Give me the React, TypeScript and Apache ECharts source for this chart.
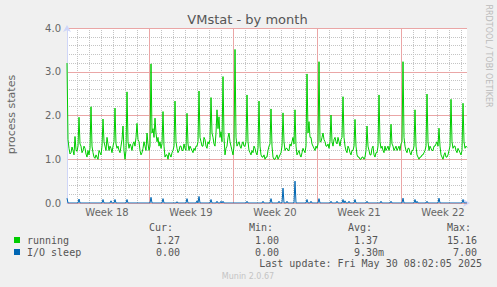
import React, { useEffect, useRef } from "react";
import * as echarts from "echarts";

// 2-hour samples starting Sun Apr 27 2025 04:00
const START_TIME = new Date(2025, 3, 27, 4, 0, 0).getTime();
const STEP_MS = 2 * 3600 * 1000;

const running = [
  3.2, 1.45, 1.25, 1.12, 1.15, 1.28, 1.2, 1.1, 1.52, 1.22, 1.18, 1.3,
  1.96, 1.35, 1.3, 1.15, 1.2, 1.3, 1.25, 1.12, 1.05, 1.2, 1.1, 1.25,
  2.2, 1.3, 1.15, 1.05, 1.02, 1.1, 1.05, 1.0, 1.2, 1.15, 1.1, 1.3,
  1.92, 1.4, 1.3, 1.2, 1.5, 1.35, 1.2, 1.3, 1.25, 1.15, 1.3, 1.4,
  2.17, 1.35, 1.25, 1.3, 1.2, 1.15, 1.3, 1.45, 1.76, 1.2, 1.0, 1.2,
  2.54, 1.4, 1.25, 1.35, 1.3, 1.2, 1.35, 1.4, 1.3, 1.5, 1.82, 1.45,
  1.4, 1.2, 1.1, 1.15, 1.25, 1.4, 1.3, 1.2, 1.6, 1.35, 1.2, 1.3,
  3.18, 1.6, 1.7, 1.5, 1.94, 1.6, 1.4, 1.5, 1.3, 1.4, 1.25, 1.35,
  2.09, 1.3, 1.05, 1.1, 1.1, 1.0, 1.15, 1.1, 1.05, 1.15, 1.2, 1.3,
  2.33, 1.4, 1.25, 1.15, 1.2, 1.3, 1.3, 1.2, 1.2, 1.35, 1.25, 1.2,
  2.05, 1.35, 1.2, 1.3, 1.25, 1.2, 1.15, 1.25, 1.2, 1.3, 1.3, 1.4,
  2.56, 1.5, 1.4, 1.3, 1.3, 1.5, 1.45, 1.3, 1.25, 1.4, 1.35, 1.45,
  2.41, 1.6, 1.5, 1.35, 1.3, 1.6, 2.13, 1.7, 1.97, 1.5, 1.63, 1.4,
  2.89, 1.5, 1.1, 1.25, 1.3, 1.5, 1.6, 1.4, 1.3, 1.2, 1.1, 1.3,
  3.51, 1.5, 1.3, 1.35, 1.4, 1.3, 1.25, 1.35, 1.4, 1.3, 1.3, 1.4,
  2.47, 1.4, 1.2, 1.15, 1.1, 1.2, 1.15, 1.3, 1.25, 1.15, 1.1, 1.25,
  2.33, 1.3, 1.1, 1.05, 1.05, 1.1, 1.0, 1.05, 1.05, 1.2, 1.3, 1.35,
  2.15, 1.3, 1.05, 1.0, 1.0, 1.05, 1.1, 1.0, 1.05, 1.1, 1.15, 1.3,
  2.06, 1.4, 1.2, 1.25, 1.25, 1.2, 1.2, 1.35, 1.3, 1.4, 1.5, 1.35,
  2.13, 1.3, 1.1, 1.15, 1.2, 1.1, 1.05, 1.15, 1.25, 1.2, 1.15, 1.3,
  2.95, 1.6, 1.86, 1.5, 1.5, 1.35, 1.3, 1.25, 1.2, 1.3, 1.25, 1.35,
  3.23, 1.4, 1.4, 1.5, 1.6, 1.45, 1.4, 1.3, 1.3, 1.35, 1.25, 1.4,
  2.01, 1.4, 1.3, 1.45, 1.5, 1.4, 1.35, 1.5, 1.4, 1.3, 1.45, 1.5,
  2.43, 1.5, 1.3, 1.2, 1.15, 1.3, 1.25, 1.15, 1.1, 1.2, 1.2, 1.3,
  1.91, 1.3, 1.1, 1.05, 1.05, 1.0, 1.0, 1.05, 1.05, 1.0, 1.05, 1.2,
  1.76, 1.3, 1.2, 1.1, 1.1, 1.25, 1.3, 1.1, 1.05, 1.15, 1.15, 1.3,
  2.47, 1.4, 1.25, 1.3, 1.2, 1.15, 1.3, 1.2, 1.25, 1.3, 1.2, 1.3,
  1.8, 1.35, 1.3, 1.2, 1.25, 1.3, 1.2, 1.25, 1.3, 1.2, 1.35, 1.4,
  3.23, 1.5, 1.3, 1.2, 1.15, 1.25, 1.25, 1.15, 1.1, 1.2, 1.2, 1.3,
  2.13, 1.3, 1.1, 1.05, 1.0, 1.05, 1.05, 1.1, 1.1, 1.15, 1.2, 1.3,
  2.49, 1.4, 1.2, 1.3, 1.25, 1.2, 1.2, 1.3, 1.3, 1.35, 1.4, 1.3,
  1.71, 1.3, 1.1, 1.05, 1.0, 1.1, 1.15, 1.05, 1.05, 1.1, 1.2, 1.3,
  2.37, 1.4, 1.25, 1.3, 1.3, 1.2, 1.15, 1.25, 1.2, 1.15, 1.1, 1.2,
  2.28, 1.4, 1.25, 1.3, 1.27,
];

const ioSleep = [
  0.11, 0, 0, 0, 0, 0, 0, 0, 0, 0, 0, 0,
  0.09, 0, 0, 0, 0, 0, 0, 0, 0, 0, 0, 0,
  0, 0, 0, 0, 0, 0, 0, 0, 0, 0, 0, 0,
  0.08, 0, 0, 0, 0, 0, 0, 0, 0.05, 0, 0, 0,
  0.08, 0, 0, 0, 0, 0, 0, 0, 0, 0, 0, 0,
  0.08, 0, 0, 0, 0, 0, 0, 0, 0, 0, 0, 0,
  0, 0, 0, 0, 0, 0, 0, 0, 0, 0, 0, 0,
  0.13, 0, 0, 0, 0, 0, 0, 0, 0, 0, 0, 0,
  0.1, 0, 0, 0, 0, 0, 0, 0, 0, 0, 0, 0,
  0, 0, 0.03, 0, 0, 0, 0, 0, 0, 0, 0, 0,
  0.1, 0, 0, 0, 0, 0, 0, 0, 0, 0, 0.05, 0,
  0.15, 0, 0, 0, 0, 0, 0, 0, 0, 0, 0, 0,
  0.08, 0, 0, 0, 0, 0, 0.04, 0, 0, 0, 0.04, 0,
  0.04, 0, 0, 0, 0, 0, 0, 0, 0, 0, 0, 0,
  0, 0, 0, 0, 0, 0, 0, 0, 0, 0, 0, 0,
  0.04, 0, 0, 0, 0, 0, 0, 0, 0, 0, 0, 0,
  0, 0, 0, 0, 0.04, 0, 0, 0, 0, 0, 0, 0,
  0.1, 0, 0, 0, 0, 0, 0, 0, 0.04, 0, 0, 0,
  0.34, 0, 0, 0, 0.04, 0, 0, 0, 0, 0, 0, 0,
  0.5, 0, 0, 0, 0, 0, 0, 0, 0, 0, 0, 0,
  0.08, 0, 0, 0, 0.04, 0, 0, 0, 0, 0, 0, 0,
  0.1, 0, 0, 0, 0, 0, 0, 0, 0, 0, 0, 0,
  0.04, 0, 0, 0, 0, 0, 0.04, 0, 0, 0, 0, 0,
  0.08, 0, 0.05, 0, 0, 0, 0.04, 0, 0, 0, 0, 0,
  0.08, 0, 0, 0, 0, 0, 0, 0, 0, 0, 0, 0,
  0.04, 0, 0, 0, 0, 0, 0, 0, 0, 0, 0, 0,
  0, 0, 0.04, 0, 0, 0, 0, 0, 0, 0, 0, 0,
  0.04, 0, 0, 0, 0, 0, 0, 0, 0, 0, 0, 0,
  0.11, 0, 0, 0, 0, 0, 0, 0, 0, 0, 0, 0,
  0.08, 0, 0.04, 0, 0, 0, 0, 0, 0, 0, 0, 0,
  0.04, 0, 0, 0, 0, 0, 0, 0, 0, 0, 0, 0,
  0.11, 0, 0, 0, 0, 0, 0, 0, 0, 0, 0, 0,
  0, 0, 0, 0, 0, 0, 0, 0, 0, 0, 0, 0,
  0.08, 0, 0, 0, 0,
];

const weekLabels = ["Week 18", "Week 19", "Week 20", "Week 21", "Week 22"];

const legendNames = ["running", "I/O sleep"];
const legendColors = ["#00cc00", "#0066b3"];
const curValues = ["1.27", "0.00"];
const minValues = ["1.00", "0.00"];
const avgValues = ["1.37", "9.30m"];
const maxValues = ["15.16", " 7.00"];

const pad = (n: number) => String(n).padStart(2, "0");
const categories = running.map((_, i) => {
  const d = new Date(START_TIME + i * STEP_MS);
  return `${d.getFullYear()}-${pad(d.getMonth() + 1)}-${pad(d.getDate())} ${pad(d.getHours())}:00`;
});

const isMidnight = (i: number) => categories[i].endsWith(" 00:00");
const isSunday = (i: number) => isMidnight(i) && new Date(START_TIME + i * STEP_MS).getDay() === 0;
const isMidWeek = (i: number) =>
  categories[i].endsWith(" 12:00") && new Date(START_TIME + i * STEP_MS).getDay() === 3;

const MONO = "'DejaVu Sans Mono', monospace";
const SANS = "'DejaVu Sans', sans-serif";
const GRID_GREY = "#c4c4c4";
const GRID_RED = "#eaa6a6";

export default function App() {
  const ref = useRef<HTMLDivElement>(null);
  useEffect(() => {
    document.body.style.margin = "0";
    if (!ref.current) return;
    const chart = echarts.init(ref.current, undefined, { renderer: "svg" });
    const midWeekIdx = categories.map((_, i) => i).filter(isMidWeek);

    const legendGraphics: any[] = [];
    const headers: [string, number][] = [
      ["Cur:", 149],
      ["Min:", 249],
      ["Avg:", 348],
      ["Max:", 447],
    ];
    headers.forEach(([t, x]) =>
      legendGraphics.push({
        type: "text",
        x,
        y: 227,
        style: { text: t, fill: "#555", fontSize: 10, fontFamily: MONO, textVerticalAlign: "middle" },
      })
    );
    legendNames.forEach((name, r) => {
      const y = 240 + r * 12;
      legendGraphics.push({
        type: "rect",
        shape: { x: 14, y: y - 3, width: 6, height: 6 },
        style: { fill: legendColors[r] },
      });
      const cells: [string, number][] = [
        [name, 27],
        [curValues[r], 156],
        [minValues[r], 255],
        [avgValues[r], 354],
        [maxValues[r], 447],
      ];
      cells.forEach(([t, x]) =>
        legendGraphics.push({
          type: "text",
          x,
          y,
          style: { text: t, fill: "#555", fontSize: 10, fontFamily: MONO, textVerticalAlign: "middle" },
        })
      );
    });

    chart.setOption({
      animation: false,
      backgroundColor: "#f0f0f0",
      grid: {
        left: 67,
        top: 28,
        width: 400,
        height: 175,
        show: true,
        z: -5,
        backgroundColor: "#ffffff",
        borderWidth: 0,
      },
      xAxis: [
        {
          type: "category",
          data: categories,
          boundaryGap: false,
          position: "bottom",
          z: 0,
          axisLine: {
            show: true,
            lineStyle: { color: "#CFD6F8", width: 1 },
            symbol: ["none", "arrow"],
            symbolSize: [6, 7],
            symbolOffset: [0, 3],
          },
          axisTick: { show: false },
          axisLabel: { show: false },
          splitLine: {
            show: true,
            interval: (i: number) => isMidnight(i) && !isSunday(i),
            lineStyle: { color: GRID_GREY, width: 1, type: [1, 1] },
          },
        },
        {
          type: "category",
          data: categories,
          boundaryGap: false,
          position: "bottom",
          z: 2,
          axisLine: { show: false },
          axisTick: { show: false },
          axisLabel: {
            show: true,
            interval: (i: number) => isMidWeek(i),
            formatter: (_v: string, i: number) => weekLabels[midWeekIdx.indexOf(i)] ?? "",
            color: "#666",
            fontSize: 10,
            fontFamily: SANS,
            margin: 4,
          },
          splitLine: {
            show: true,
            interval: (i: number) => isSunday(i),
            lineStyle: { color: GRID_RED, width: 1, type: "solid" },
          },
        },
      ],
      yAxis: [
        {
          type: "value",
          min: 0,
          max: 4,
          interval: 1,
          z: 2,
          axisLine: {
            show: true,
            lineStyle: { color: "#CFD6F8", width: 1 },
            symbol: ["none", "arrow"],
            symbolSize: [6, 7],
            symbolOffset: [0, 3],
          },
          axisTick: { show: false },
          axisLabel: {
            color: "#666",
            fontSize: 10,
            fontFamily: SANS,
            margin: 6,
            formatter: (v: number) => v.toFixed(1),
          },
          splitLine: { show: true, lineStyle: { color: GRID_RED, width: 1, type: "solid" } },
        },
        {
          type: "value",
          min: 0,
          max: 4,
          interval: 0.2,
          z: 0,
          axisLine: { show: false },
          axisTick: { show: false },
          axisLabel: { show: false },
          splitLine: { show: true, lineStyle: { color: GRID_GREY, width: 1, type: [1, 1] } },
        },
      ],
      series: [
        {
          name: "running",
          type: "line",
          xAxisIndex: 0,
          yAxisIndex: 0,
          data: running,
          showSymbol: false,
          symbol: "none",
          lineStyle: { color: "#00cc00", width: 1 },
          itemStyle: { color: "#00cc00" },
          z: 3,
        },
        {
          name: "I/O sleep",
          type: "line",
          xAxisIndex: 0,
          yAxisIndex: 0,
          data: ioSleep,
          showSymbol: false,
          symbol: "none",
          lineStyle: { color: "#0066b3", width: 1 },
          itemStyle: { color: "#0066b3" },
          z: 4,
        },
      ],
      graphic: [
        {
          type: "text",
          x: 247.5,
          y: 19,
          style: {
            text: "VMstat - by month",
            fill: "#555",
            fontSize: 13,
            fontFamily: SANS,
            textAlign: "center",
            textVerticalAlign: "middle",
          },
        },
        {
          type: "text",
          x: 11.5,
          y: 114.5,
          rotation: Math.PI / 2,
          style: {
            text: "process states",
            fill: "#666",
            fontSize: 11,
            fontFamily: SANS,
            textAlign: "center",
            textVerticalAlign: "middle",
          },
        },
        {
          type: "text",
          x: 488,
          y: 56,
          rotation: -Math.PI / 2,
          style: {
            text: "RRDTOOL / TOBI OETIKER",
            fill: "#bbbbbb",
            fontSize: 8,
            fontFamily: SANS,
            textAlign: "center",
            textVerticalAlign: "middle",
          },
        },
        ...legendGraphics,
        {
          type: "text",
          x: 482,
          y: 263,
          style: {
            text: "Last update: Fri May 30 08:02:05 2025",
            fill: "#555",
            fontSize: 10,
            fontFamily: MONO,
            textAlign: "right",
            textVerticalAlign: "middle",
          },
        },
        {
          type: "text",
          x: 248,
          y: 276,
          style: {
            text: "Munin 2.0.67",
            fill: "#c4c4c4",
            fontSize: 8,
            fontFamily: SANS,
            textAlign: "center",
            textVerticalAlign: "middle",
          },
        },
      ],
    });
    return () => chart.dispose();
  }, []);
  return <div ref={ref} style={{ width: 497, height: 287 }} />;
}
